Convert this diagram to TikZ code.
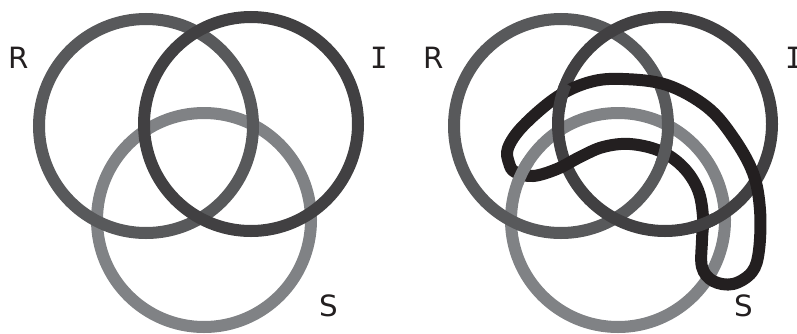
\documentclass[tikz,border=0pt]{standalone}
\usepackage{fontspec}
\setmainfont{DejaVu Sans}
\newfontfamily\serifI{DejaVu Sans Mono}
\usetikzlibrary{positioning,calc}
\definecolor{ringR}{HTML}{58595B}
\definecolor{ringI}{HTML}{414042}
\definecolor{ringS}{HTML}{808285}
\definecolor{ringK}{HTML}{231F20}
\tikzset{
  ring/.style={line width=0.36cm},
  lbl/.style={font=\fontsize{25}{30}\selectfont, text=ringK, inner sep=0pt}
}

\begin{document}
\begin{tikzpicture}[x=0.03cm,y=-0.03cm]
  \useasboundingbox (0,0) rectangle (797,333);
  % three rings
  \draw[ring, ringS] (204,220) circle (107);
  \draw[ring, ringR] (146,126) circle (107);
  \draw[ring, ringI] (251,124) circle (107);
  \node[lbl] (lR) at (18.5,58) {R};
  \node[lbl] (lI) at (379,58) {\serifI I};
  \node[lbl] (lS) at (329,306) {S};
  % three rings and the fourth one
  \begin{scope}[shift={(415,0)}]
    \draw[ring, ringS] (203,220) circle (107);
    \draw[ring, ringR] (146,126) circle (107);
    \draw[ring, ringI] (250,124) circle (107);
    \draw[ring, ringK] plot[smooth cycle, tension=0.6] coordinates {
      (94,163) (93,148) (108,126) (142,97) (175,82) (208,79) (252,85)
      (292,107) (318,137) (338,173) (345,210) (344,250) (337,272)
      (318,284) (298,281) (287,267) (287,240) (288,217) (283,190)
      (268,167) (245,151) (215,144) (188,147) (165,157) (142,169)
      (118,176) (100,172)};
    % where a ring passes over the fourth one
    \begin{scope}
      \clip (146.5,97) circle (14);
      \draw[ring, ringI] (250,124) circle (107);
    \end{scope}
    \begin{scope}
      \clip (288,224) circle (14);
      \draw[ring, ringI] (250,124) circle (107);
    \end{scope}
    \begin{scope}
      \clip (107,172) circle (14);
      \draw[ring, ringS] (203,220) circle (107);
    \end{scope}
    \begin{scope}
      \clip (250,152) circle (14);
      \draw[ring, ringR] (146,126) circle (107);
    \end{scope}
    \node[lbl] (rR) at (18.5,58) {R};
    \node[lbl] (rI) at (379,58) {\serifI I};
    \node[lbl] (rS) at (329,306) {S};
  \end{scope}
\end{tikzpicture}
\end{document}
